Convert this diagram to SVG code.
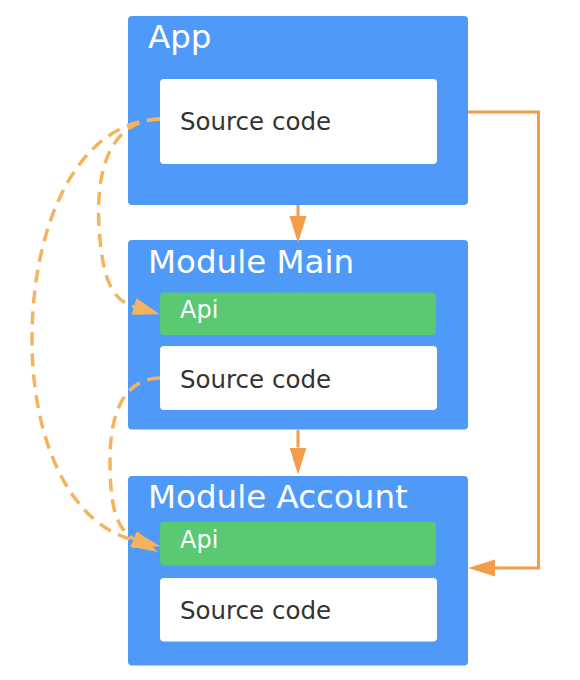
<svg xmlns="http://www.w3.org/2000/svg" width="580" height="680" viewBox="0 0 580 680">
<style>
.mod{fill:#4f9af8}
.src{fill:#ffffff}
.api{fill:#5bc872}
.title{font-family:"DejaVu Sans",sans-serif;font-size:32.5px;fill:#ffffff}
.lbl{font-family:"DejaVu Sans",sans-serif;font-size:24.5px;fill:#333333}
.apil{font-family:"DejaVu Sans",sans-serif;font-size:24px;fill:#ffffff}
.solid{fill:none;stroke:#f39c4a;stroke-width:3}
.dash{fill:none;stroke:#f4b45e;stroke-width:3.5;stroke-dasharray:13 8}
</style>
<defs>
<marker id="ah" markerUnits="userSpaceOnUse" markerWidth="28" markerHeight="18" viewBox="0 -9 28 18" refX="0" refY="0" orient="auto">
<path d="M0,-8.5 L27,0 L0,8.5 z" fill="#f39c4a"/>
</marker>
<marker id="ahd" markerUnits="userSpaceOnUse" markerWidth="28" markerHeight="18" viewBox="0 -9 28 18" refX="0" refY="0" orient="auto">
<path d="M0,-8.5 L27,0 L0,8.5 z" fill="#f4b45e"/>
</marker>
</defs>
<g id="app">
<rect class="mod" x="128" y="16" width="340" height="189" rx="4"/>
<text class="title" x="148" y="48">App</text>
<g id="app-src">
<rect class="src" x="160" y="79" width="277" height="85" rx="4"/>
<text class="lbl" x="180" y="129.5">Source code</text>
</g>
</g>
<g id="module-main">
<rect class="mod" x="128" y="240" width="340" height="189.5" rx="4"/>
<text class="title" x="148" y="272.5">Module Main</text>
<g id="main-api">
<rect class="api" x="160" y="292.5" width="276" height="42.5" rx="4"/>
<text class="apil" x="180" y="317.5">Api</text>
</g>
<g id="main-src">
<rect class="src" x="160" y="346" width="277" height="64" rx="4"/>
<text class="lbl" x="180" y="387.5">Source code</text>
</g>
</g>
<g id="module-account">
<rect class="mod" x="128" y="476" width="340" height="189.5" rx="4"/>
<text class="title" x="148" y="507.7">Module Account</text>
<g id="account-api">
<rect class="api" x="160" y="522" width="276" height="43.5" rx="4"/>
<text class="apil" x="180" y="548.3">Api</text>
</g>
<g id="account-src">
<rect class="src" x="160" y="578" width="277" height="63.5" rx="4"/>
<text class="lbl" x="180" y="619.3">Source code</text>
</g>
</g>
<g id="connectors">
<path class="solid" d="M298,205 L298,216" marker-end="url(#ah)"/>
<path class="solid" d="M298,430 L298,447.5" marker-end="url(#ah)"/>
<path class="solid" d="M468,112 L538.5,112 L538.5,568 L495,568" marker-end="url(#ah)"/>
<path class="dash" d="M160,119 C100,121 95,190 100,240 C104,280 112,300 134,306.5" marker-end="url(#ahd)"/>
<path class="dash" d="M160,119 C80,121 32,220 32,340 C32,440 70,525 134,540" marker-end="url(#ahd)"/>
<path class="dash" d="M160,378 C120,379 110,420 110,460 C110,500 114,528 134,539" marker-end="url(#ahd)"/>
</g>
</svg>
